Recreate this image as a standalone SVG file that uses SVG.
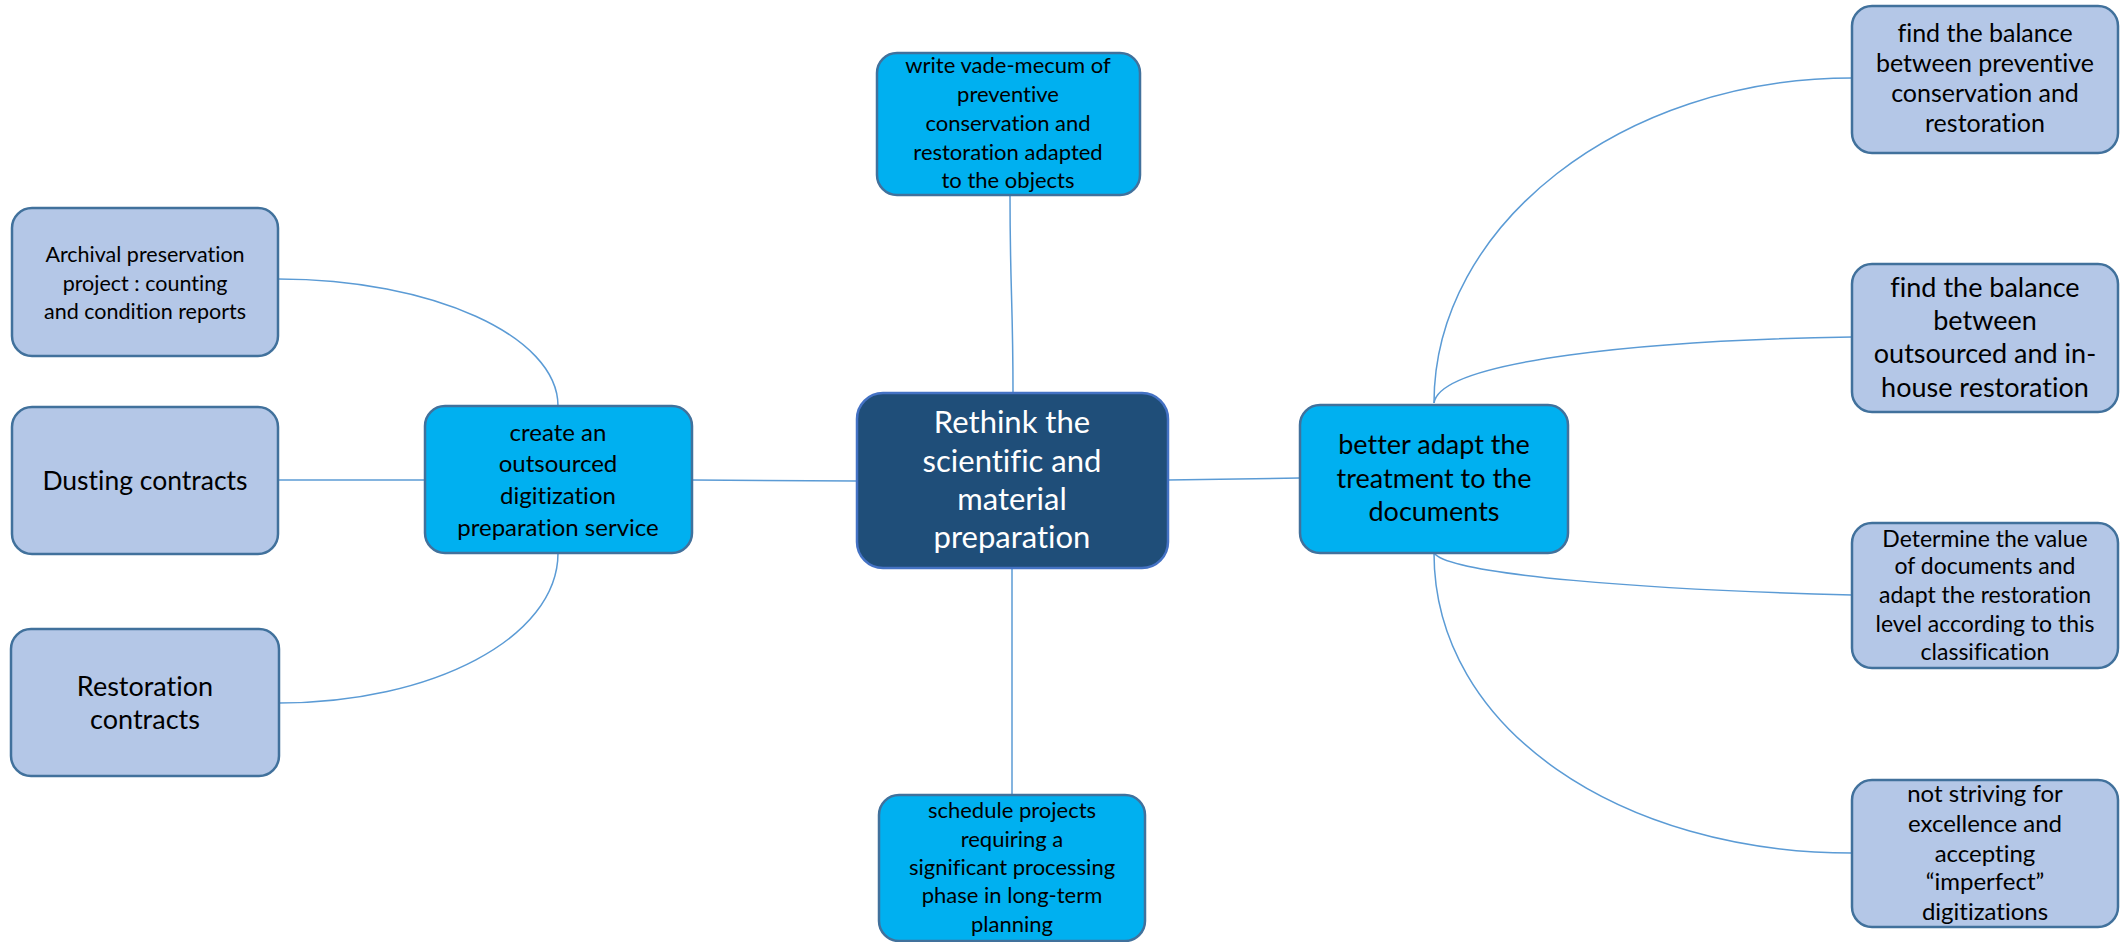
<svg xmlns="http://www.w3.org/2000/svg" width="2125" height="942" viewBox="0 0 2125 942">
<style>
.c{fill:none;stroke:#5B9BD5;stroke-width:1.5}
.lt{fill:#B4C7E7;stroke:#41719C;stroke-width:2.5}
.cy{fill:#00B0F0;stroke:#41719C;stroke-width:2.5}
.mn{fill:#1F4E79;stroke:#4472C4;stroke-width:2.5}
text{font-family:Lato,"Open Sans","Liberation Sans",sans-serif;text-anchor:middle;fill:#000;font-variant-ligatures:none;font-feature-settings:"liga" 0}
.w{fill:#fff}
</style>
<rect width="2125" height="942" fill="#fff"/>
<g id="connectors">
<path class="c" d="M1010,195 C1010,290 1013,300 1013,393"/>
<path class="c" d="M1012,568 L1012,795"/>
<path class="c" d="M692,480 L857,481"/>
<path class="c" d="M1168,480 L1300,478"/>
<path class="c" d="M278,480 L425,480"/>
<path class="c" d="M278,279 C432,279 558,336 558,406"/>
<path class="c" d="M279,703 C432,703 558,638 558,553"/>
<path class="c" d="M1434,403 C1434,225 1622,78 1852,78"/>
<path class="c" d="M1434,403 C1440,360 1650,340 1852,337"/>
<path class="c" d="M1434,553 C1450,575 1650,590 1852,595"/>
<path class="c" d="M1434,553 C1434,730 1622,853 1852,853"/>
</g>
<g id="central">
<rect class="mn" x="857" y="393" width="311" height="175" rx="26"/>
<text class="w" font-size="31"><tspan x="1012" y="433">Rethink the</tspan><tspan x="1012" y="472">scientific and</tspan><tspan x="1012" y="510">material</tspan><tspan x="1012" y="548">preparation</tspan></text>
</g>
<g id="top">
<rect class="cy" x="877" y="53" width="263" height="142" rx="20"/>
<text font-size="22"><tspan x="1008" y="73">write vade-mecum of</tspan><tspan x="1008" y="102">preventive</tspan><tspan x="1008" y="131">conservation and</tspan><tspan x="1008" y="160">restoration adapted</tspan><tspan x="1008" y="188">to the objects</tspan></text>
</g>
<g id="bottom">
<rect class="cy" x="879" y="795" width="266" height="146" rx="20"/>
<text font-size="22"><tspan x="1012" y="818">schedule projects</tspan><tspan x="1012" y="847">requiring a</tspan><tspan x="1012" y="875">significant processing</tspan><tspan x="1012" y="903">phase in long-term</tspan><tspan x="1012" y="932">planning</tspan></text>
</g>
<g id="create">
<rect class="cy" x="425" y="406" width="267" height="147" rx="20"/>
<text font-size="24"><tspan x="558" y="441">create an</tspan><tspan x="558" y="472">outsourced</tspan><tspan x="558" y="504">digitization</tspan><tspan x="558" y="536">preparation service</tspan></text>
</g>
<g id="archival">
<rect class="lt" x="12" y="208" width="266" height="148" rx="20"/>
<text font-size="21.5"><tspan x="145" y="262">Archival preservation</tspan><tspan x="145" y="291">project : counting</tspan><tspan x="145" y="319">and condition reports</tspan></text>
</g>
<g id="dusting">
<rect class="lt" x="12" y="407" width="266" height="147" rx="20"/>
<text font-size="26.5" x="145" y="490">Dusting contracts</text>
</g>
<g id="restoration">
<rect class="lt" x="11" y="629" width="268" height="147" rx="20"/>
<text font-size="27"><tspan x="145" y="696">Restoration</tspan><tspan x="145" y="729">contracts</tspan></text>
</g>
<g id="adapt">
<rect class="cy" x="1300" y="405" width="268" height="148" rx="20"/>
<text font-size="27"><tspan x="1434" y="454">better adapt the</tspan><tspan x="1434" y="488">treatment to the</tspan><tspan x="1434" y="521">documents</tspan></text>
</g>
<g id="balance1">
<rect class="lt" x="1852" y="6" width="266" height="147" rx="20"/>
<text font-size="25"><tspan x="1985" y="42">find the balance</tspan><tspan x="1985" y="72">between preventive</tspan><tspan x="1985" y="102">conservation and</tspan><tspan x="1985" y="132">restoration</tspan></text>
</g>
<g id="balance2">
<rect class="lt" x="1852" y="264" width="266" height="148" rx="20"/>
<text font-size="27"><tspan x="1985" y="297">find the balance</tspan><tspan x="1985" y="330">between</tspan><tspan x="1985" y="363">outsourced and in-</tspan><tspan x="1985" y="397">house restoration</tspan></text>
</g>
<g id="value">
<rect class="lt" x="1852" y="523" width="266" height="145" rx="20"/>
<text font-size="23"><tspan x="1985" y="547">Determine the value</tspan><tspan x="1985" y="574">of documents and</tspan><tspan x="1985" y="603">adapt the restoration</tspan><tspan x="1985" y="632">level according to this</tspan><tspan x="1985" y="660">classification</tspan></text>
</g>
<g id="imperfect">
<rect class="lt" x="1852" y="780" width="266" height="147" rx="20"/>
<text font-size="24"><tspan x="1985" y="802">not striving for</tspan><tspan x="1985" y="832">excellence and</tspan><tspan x="1985" y="862">accepting</tspan><tspan x="1985" y="890">“imperfect”</tspan><tspan x="1985" y="920">digitizations</tspan></text>
</g>
</svg>
